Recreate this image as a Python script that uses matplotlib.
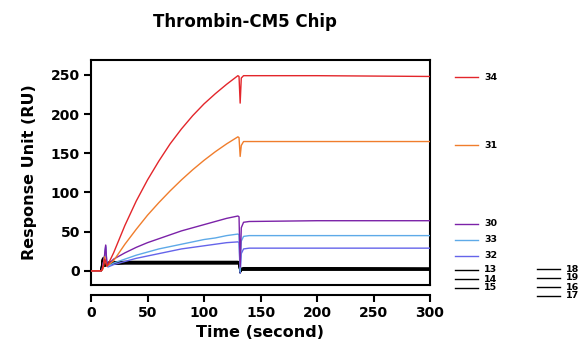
import matplotlib
matplotlib.use("Agg")
import matplotlib.pyplot as plt
from matplotlib.lines import Line2D

# time points (s) shared by all sensorgrams
time = [0, 9, 10, 11, 12, 13, 14, 15, 20, 30, 40, 50, 60, 70, 80, 90,
        100, 110, 120, 130, 131, 132, 133, 135, 140, 200, 300]

# response (RU)
s34 = [0, 0, 2, 8, 15, 12, 6, 8, 23, 58, 89, 116, 140, 162, 181, 198,
       213, 226, 238, 249, 248, 214, 246, 249, 249, 249, 248]
s31 = [0, 0, 1, 4, 18, 12, 6, 7, 13, 34, 53, 71, 87, 102, 116, 129,
       141, 152, 162, 171, 170, 146, 160, 165, 165, 165, 165]
s30 = [0, 0, 2, 10, 20, 33, 10, 8, 15, 23, 30, 36, 41, 46, 51, 55,
       59, 63, 67, 70, 69, 5, 55, 62, 63, 64, 64]
s33 = [0, 0, 2, 10, 18, 30, 8, 6, 10, 15, 20, 24, 28, 31, 34, 37,
       40, 42, 45, 47, 46, -1, 38, 44, 45, 45, 45]
s32 = [0, 0, 2, 10, 18, 32, 8, 5, 8, 12, 16, 19, 22, 25, 28, 30,
       32, 34, 36, 37, 36, -3, 22, 28, 29, 29, 29]
s13 = [0, 0, 15, 17, 8, 9, 10, 11, 11.5, 12, 12, 12, 12, 12, 12, 12,
       12, 12, 12, 12, 11.5, -2, 3, 4, 4, 4, 3.5]
s14 = [0, 0, 14, 16, 8, 9, 9.5, 10.5, 11, 11.5, 11.5, 11.5, 11.5, 11.5, 11.5, 11.5,
       11.5, 11.5, 11.5, 11.5, 11, -2, 3, 3.5, 3.5, 3.5, 3]
s15 = [0, 0, 13, 15, 7, 8, 9, 10, 10.5, 11, 11, 11, 11, 11, 11, 11,
       11, 11, 11, 11, 10.5, -2, 2.5, 3, 3, 3, 3]
s16 = [0, 0, 12, 14, 7, 8, 8.5, 9.5, 10, 10.5, 10.5, 10.5, 10.5, 10.5, 10.5, 10.5,
       10.5, 10.5, 10.5, 10.5, 10, -2, 2, 2.5, 2.5, 2.5, 2.5]
s17 = [0, 0, 11, 13, 6, 7, 8, 9, 9.5, 10, 10, 10, 10, 10, 10, 10,
       10, 10, 10, 10, 9.5, -2, 2, 2, 2, 2, 2]
s18 = [0, 0, 12, 14, 6, 7, 7.5, 8.5, 9, 9.5, 9.5, 9.5, 9.5, 9.5, 9.5, 9.5,
       9.5, 9.5, 9.5, 9.5, 9, -2, 1.5, 1.5, 1.5, 1.5, 1.5]
s19 = [0, 0, 10, 12, 6, 7, 7.5, 8, 8.5, 9, 9, 9, 9, 9, 9, 9,
       9, 9, 9, 9, 8.5, -2, 1, 1, 1, 1, 1]

series = {"34": s34, "31": s31, "30": s30, "33": s33, "32": s32,
          "13": s13, "14": s14, "15": s15, "16": s16, "17": s17,
          "18": s18, "19": s19}
colors = {"34": "#e3262b", "31": "#f07d2c", "30": "#7b22a8", "33": "#5eaae8",
          "32": "#6564ea"}

# label layout in figure pixels: (name, line x0, y)
labels = [("34", 455, 77), ("31", 455, 145), ("30", 455, 224), ("33", 455, 240),
          ("32", 455, 256), ("13", 455, 270), ("14", 455, 279), ("15", 455, 288),
          ("18", 537, 269), ("19", 537, 278), ("16", 537, 287), ("17", 537, 296)]

W, H = 581, 345
fig = plt.figure(figsize=(W / 100, H / 100), dpi=100)
ax = fig.add_axes([91 / W, 1 - 285 / H, (430 - 91) / W, (285 - 60) / H])

# black traces first, coloured on top
for name in ["19", "18", "17", "16", "15", "14", "13"]:
    ax.plot(time, series[name], color="black", lw=1.1, zorder=2)
for name in ["32", "33", "30", "31", "34"]:
    ax.plot(time, series[name], color=colors[name], lw=1.0, zorder=3)

ax.set_xlim(0, 300)
ax.set_ylim(-18, 269)
ax.set_xticks([0, 50, 100, 150, 200, 250, 300])
ax.set_yticks([0, 50, 100, 150, 200, 250])

for sp in ax.spines.values():
    sp.set_linewidth(1.5)
ax.spines["bottom"].set_position(("outward", 7))
# bottom edge of the box
ax.plot([0, 1], [0, 0], transform=ax.transAxes, color="black", lw=1.5,
        clip_on=False, zorder=5)

ax.tick_params(width=1.5, length=5, labelsize=10, pad=3)
for lab in ax.get_xticklabels() + ax.get_yticklabels():
    lab.set_fontweight("bold")

ax.set_xlabel("Time (second)", fontsize=11.5, fontweight="bold", labelpad=4)
ax.set_ylabel("Response Unit (RU)", fontsize=11.5, fontweight="bold", labelpad=10)
fig.text(245 / W, 1 - 22 / H, "Thrombin-CM5 Chip", ha="center", va="center",
         fontsize=12, fontweight="bold")

for name, x0, y in labels:
    yf = 1 - y / H
    fig.add_artist(Line2D([x0 / W, (x0 + 23) / W], [yf, yf], transform=fig.transFigure,
                          color=colors.get(name, "black"), lw=1.0))
    fig.text((x0 + 29) / W, yf, name, ha="left", va="center", fontsize=6.8,
             fontweight="bold")

fig.savefig("out.png", dpi=100)
